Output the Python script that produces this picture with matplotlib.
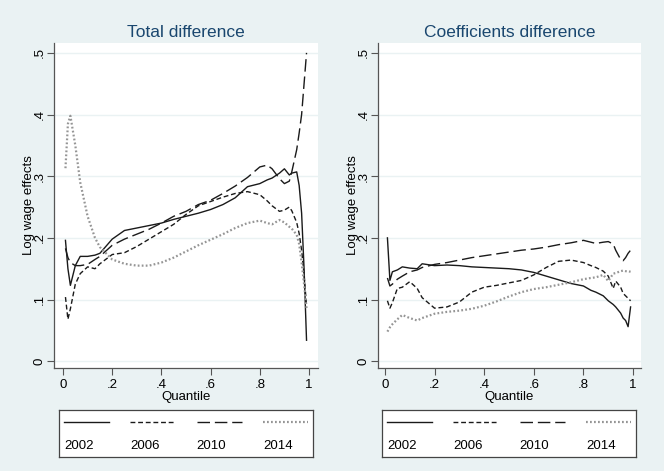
import numpy as np
import matplotlib
matplotlib.use("Agg")
import matplotlib.pyplot as plt

plt.rcParams['font.family'] = ['Liberation Sans', 'DejaVu Sans']

# quantile grid shared by all series
quantile = [0.01, 0.02, 0.03, 0.05, 0.07, 0.10, 0.13, 0.15, 0.20, 0.25, 0.30, 0.35,
            0.40, 0.45, 0.50, 0.55, 0.60, 0.65, 0.70, 0.75, 0.80, 0.83, 0.85, 0.88,
            0.90, 0.92, 0.93, 0.95, 0.96, 0.97, 0.98, 0.99]

# Total difference
total_2002 = [0.196, 0.150, 0.123, 0.155, 0.170, 0.170, 0.172, 0.175, 0.198, 0.212, 0.216, 0.220,
              0.224, 0.230, 0.235, 0.240, 0.246, 0.254, 0.265, 0.283, 0.288, 0.294, 0.297, 0.305,
              0.312, 0.302, 0.305, 0.307, 0.285, 0.240, 0.150, 0.034]
total_2006 = [0.104, 0.068, 0.085, 0.125, 0.142, 0.153, 0.150, 0.158, 0.173, 0.176, 0.186, 0.198,
              0.210, 0.222, 0.238, 0.252, 0.259, 0.266, 0.272, 0.275, 0.270, 0.260, 0.252, 0.243,
              0.245, 0.250, 0.244, 0.225, 0.207, 0.180, 0.140, 0.090]
total_2010 = [0.183, 0.168, 0.160, 0.155, 0.155, 0.157, 0.165, 0.170, 0.188, 0.198, 0.206, 0.214,
              0.224, 0.235, 0.243, 0.254, 0.261, 0.272, 0.284, 0.298, 0.315, 0.318, 0.312, 0.296,
              0.288, 0.292, 0.307, 0.343, 0.370, 0.400, 0.450, 0.500]
total_2014 = [0.313, 0.385, 0.398, 0.350, 0.290, 0.235, 0.200, 0.185, 0.165, 0.158, 0.155, 0.155,
              0.160, 0.168, 0.178, 0.188, 0.197, 0.206, 0.216, 0.224, 0.228, 0.224, 0.222, 0.229,
              0.225, 0.218, 0.215, 0.205, 0.190, 0.160, 0.125, 0.086]

# Coefficients difference
coef_2002 = [0.200, 0.131, 0.145, 0.148, 0.153, 0.151, 0.150, 0.158, 0.155, 0.156, 0.155, 0.153,
             0.152, 0.151, 0.150, 0.148, 0.144, 0.138, 0.132, 0.126, 0.122, 0.115, 0.112, 0.106,
             0.098, 0.092, 0.088, 0.078, 0.070, 0.066, 0.056, 0.088]
coef_2006 = [0.098, 0.086, 0.095, 0.118, 0.120, 0.129, 0.118, 0.103, 0.086, 0.088, 0.096, 0.112,
             0.120, 0.123, 0.127, 0.131, 0.140, 0.152, 0.162, 0.164, 0.160, 0.155, 0.152, 0.146,
             0.138, 0.118, 0.130, 0.120, 0.110, 0.106, 0.102, 0.098]
coef_2010 = [0.135, 0.122, 0.125, 0.133, 0.138, 0.145, 0.148, 0.152, 0.157, 0.160, 0.164, 0.168,
             0.171, 0.174, 0.177, 0.180, 0.182, 0.185, 0.189, 0.192, 0.196, 0.193, 0.191, 0.193,
             0.194, 0.190, 0.180, 0.165, 0.163, 0.168, 0.175, 0.180]
coef_2014 = [0.048, 0.055, 0.060, 0.068, 0.075, 0.070, 0.066, 0.070, 0.077, 0.080, 0.082, 0.085,
             0.090, 0.097, 0.105, 0.112, 0.117, 0.120, 0.124, 0.128, 0.133, 0.135, 0.136, 0.140,
             0.130, 0.142, 0.143, 0.146, 0.147, 0.146, 0.146, 0.145]

years = ['2002', '2006', '2010', '2014']
xticks = [0, 0.2, 0.4, 0.6, 0.8, 1]
xticklabels = ['0', '.2', '.4', '.6', '.8', '1']
yticks = [0, 0.1, 0.2, 0.3, 0.4, 0.5]
yticklabels = ['0', '.1', '.2', '.3', '.4', '.5']

bg = '#EAF2F3'
navy = '#1A476F'
styles = [dict(color='#1a1a1a', linestyle='-', lw=1.0),
          dict(color='#1a1a1a', linestyle=(0, (3.5, 2)), lw=1.0),
          dict(color='#1a1a1a', linestyle=(0, (9, 3.5)), lw=1.0),
          dict(color='#959595', linestyle=(0, (0.8, 1.0)), lw=1.6)]

W, H = 664, 471
fig = plt.figure(figsize=(W / 100, H / 100), dpi=100, facecolor=bg)


def px_axes(x0, y0, x1, y1):
    return fig.add_axes([x0 / W, 1 - y1 / H, (x1 - x0) / W, (y1 - y0) / H])


panels = [
    ('Total difference', (54, 43, 318, 368), (-0.0366, 1.0366), (59, 410, 313, 457),
     [total_2002, total_2006, total_2010, total_2014]),
    ('Coefficients difference', (378, 43, 641, 368), (-0.028, 1.032), (382, 410, 636, 457),
     [coef_2002, coef_2006, coef_2010, coef_2014]),
]

for title, box, xl, lbox, series in panels:
    ax = px_axes(*box)
    ax.set_facecolor('white')
    for ys, st in zip(series, styles):
        ax.plot(quantile, ys, **st)
    ax.set_xlim(*xl)
    ax.set_ylim(-0.011, 0.516)
    ax.set_xticks(xticks)
    ax.set_xticklabels(xticklabels, fontsize=9.5)
    ax.set_yticks(yticks)
    ax.set_yticklabels(yticklabels, fontsize=9.5, rotation=90, va='center')
    ax.grid(axis='y', color=bg, lw=1.0)
    ax.set_axisbelow(True)
    for s in ['top', 'right']:
        ax.spines[s].set_visible(False)
    for s in ['left', 'bottom']:
        ax.spines[s].set_color('#555555')
        ax.spines[s].set_linewidth(0.9)
    ax.tick_params(length=5, width=0.8, color='#555555')
    ax.tick_params(axis='x', pad=3)
    ax.tick_params(axis='y', pad=1)
    ax.set_xlabel('Quantile', fontsize=9.5, labelpad=0)
    ax.set_ylabel('Log wage effects', fontsize=9.5, labelpad=-1)
    ax.set_title(title, fontsize=12.5, color=navy, pad=4)

    # legend box below the panel
    lg = px_axes(*lbox)
    lg.set_xlim(0, 1)
    lg.set_ylim(0, 1)
    lg.set_xticks([])
    lg.set_yticks([])
    for s in lg.spines.values():
        s.set_color('#444444')
        s.set_linewidth(0.9)
    for i, (yr, st) in enumerate(zip(years, styles)):
        x0 = 0.02 + i * 0.261
        lg.plot([x0, x0 + 0.177], [0.745, 0.745], **st)
        lg.text(x0, 0.234, yr, fontsize=9.5, va='center', ha='left')

fig.savefig('out.png', dpi=100, facecolor=bg)
